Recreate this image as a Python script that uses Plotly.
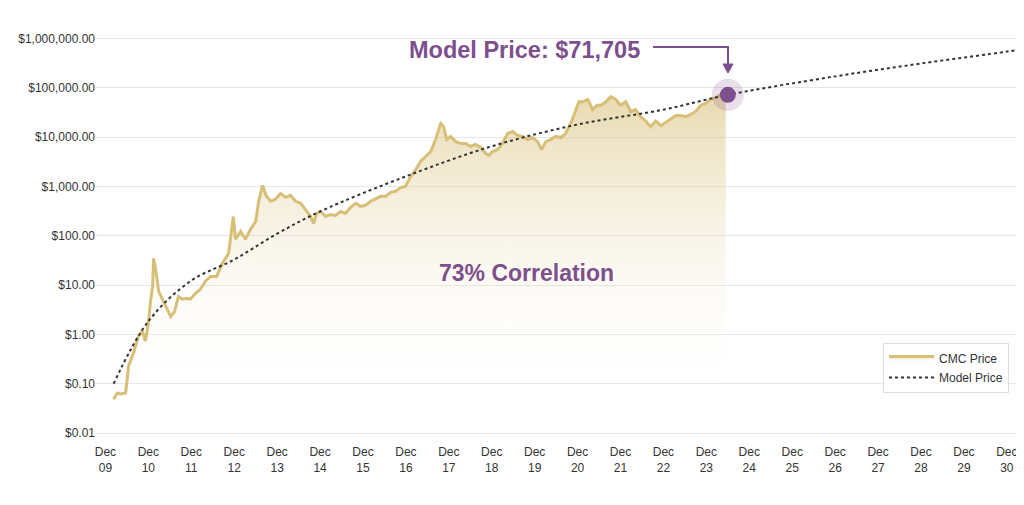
import plotly.graph_objects as go

price_year = [2010.11,2010.20,2010.27,2010.39,2010.46,2010.57,2010.69,2010.78,2010.85,2010.92,2010.97,2011.02,2011.04,2011.09,2011.16,2011.25,2011.34,2011.44,
 2011.53,2011.62,2011.71,2011.81,2011.90,2012.02,2012.13,2012.25,2012.37,2012.51,2012.65,2012.79,2012.90,2012.95,2013.07,2013.18,2013.30,2013.42,2013.49,2013.58,2013.67,2013.77,2013.88,
 2014.00,2014.12,2014.23,2014.35,2014.47,2014.58,2014.70,2014.77,2014.84,2014.93,2015.05,2015.16,2015.28,2015.40,2015.51,2015.63,2015.75,2015.86,2015.98,
 2016.10,2016.21,2016.33,2016.45,2016.56,2016.68,2016.80,2016.91,2017.03,2017.15,2017.26,2017.38,2017.50,2017.61,2017.73,2017.80,2017.87,2017.96,
 2018.08,2018.20,2018.31,2018.43,2018.54,2018.66,2018.78,2018.85,2018.94,2019.06,2019.17,2019.29,2019.41,2019.52,2019.64,2019.76,2019.87,2019.99,
 2020.08,2020.18,2020.29,2020.41,2020.53,2020.64,2020.76,2020.85,2020.95,2021.04,2021.16,2021.27,2021.37,2021.46,2021.58,2021.69,2021.81,2021.92,
 2022.04,2022.16,2022.27,2022.39,2022.51,2022.62,2022.74,2022.86,2022.97,2023.09,2023.21,2023.32,2023.44,2023.56,2023.67,2023.79,2023.90,2024.02,2024.14,2024.25,2024.37]
price_usd = [0.049,0.065,0.062,0.065,0.23,0.41,0.92,1.16,0.73,1.7,4.7,9.5,35,21,7.5,5.2,3.7,2.3,
 2.9,5.9,5.2,5.4,5.2,6.8,8.2,12,15,15,28,44,245,85,123,85,135,195,500,1050,630,500,550,
 720,600,660,500,455,340,245,178,283,310,245,270,258,310,283,375,455,395,415,
 500,550,630,630,760,795,955,1000,1590,2200,3200,4050,5100,8900,19000,16300,8900,10300,
 8100,7400,7400,6450,7100,6150,4650,4250,5100,5600,7400,11800,13000,10800,10300,8900,9800,8100,
 5600,8100,8900,10300,9800,11800,19000,30000,52000,52000,58000,36000,44000,44000,52000,66000,58000,44000,
 52000,33000,36000,26000,21000,16300,21000,17000,20000,23000,27500,27500,26000,29000,33000,44000,48000,58000,63000,72000,80000]

fill_floor = 0.1

model_year = [2010.11,2010.92,2011.90,2012.92,2013.92,2014.92,2016.92,2018.92,2020.92,2022.92,2024.42,2026.92,2028.92,2030.92,2031.25]
model_usd = [0.1,1.85,12,33,110,310,1600,6500,18000,36000,71705,170000,310000,540000,600000]

current_year = 2024.42
current_model = 71705

tick_years = [2009.92 + i for i in range(22)]
tick_labels = ["Dec<br>%02d" % (9 + i) for i in range(22)]
y_ticks = [0.01,0.1,1,10,100,1000,10000,100000,1000000]
y_labels = ["$0.01","$0.10","$1.00","$10.00","$100.00","$1,000.00","$10,000.00","$100,000.00","$1,000,000.00"]

PURPLE = "#7d4f8c"
GOLD = "#d8bf78"

fig = go.Figure()
fig.add_trace(go.Scatter(x=[price_year[0], price_year[-1]], y=[fill_floor, fill_floor], mode="lines",
    line=dict(width=0, color="rgba(0,0,0,0)"), showlegend=False, hoverinfo="skip"))
fig.add_trace(go.Scatter(x=price_year, y=price_usd, mode="lines", name="CMC Price",
    line=dict(color=GOLD, width=3), fill="tonexty", legendrank=1,
    fillgradient=dict(type="vertical", colorscale=[[0, "rgba(255,255,255,0)"], [1, "rgba(216,191,120,0.6)"]])))
fig.add_trace(go.Scatter(x=model_year, y=model_usd, mode="lines", name="Model Price", legendrank=2,
    line=dict(color="#333333", width=2, dash="dot", shape="spline")))
fig.add_trace(go.Scatter(x=[current_year], y=[current_model], mode="markers", showlegend=False,
    marker=dict(size=32, color="rgba(125,79,140,0.18)")))
fig.add_trace(go.Scatter(x=[current_year], y=[current_model], mode="markers", showlegend=False,
    marker=dict(size=16, color=PURPLE)))

L, R, T, B = 88, 1013, 23, 435
def px(x): return (x - L - 7) / (R - L)
def py(y): return (B + 7 - y) / (B - T)

fig.add_shape(type="path", xref="paper", yref="paper",
    path="M %f %f L %f %f L %f %f" % (px(652), py(46), px(727), py(46), px(727), py(64)),
    line=dict(color=PURPLE, width=2))
fig.add_shape(type="path", xref="paper", yref="paper",
    path="M %f %f L %f %f L %f %f Z" % (px(722), py(63), px(732), py(63), px(727), py(72)),
    line=dict(color=PURPLE, width=1), fillcolor=PURPLE)

fig.add_annotation(xref="paper", yref="paper", x=px(641), y=py(49), xanchor="right", yanchor="middle",
    text="<b>Model Price: $71,705</b>", showarrow=False, font=dict(size=23.5, color=PURPLE))
fig.add_annotation(xref="paper", yref="paper", x=px(525), y=py(272), xanchor="center", yanchor="middle",
    text="<b>73% Correlation</b>", showarrow=False, font=dict(size=23, color=PURPLE))

fig.update_layout(
    width=1024, height=505, margin=dict(l=L, r=1024 - R, t=T, b=505 - B),
    paper_bgcolor="white", plot_bgcolor="white",
    font=dict(family="Liberation Sans, Arial, sans-serif", size=12, color="#333"),
    legend=dict(x=px(882), y=py(342), xanchor="left", yanchor="top", bgcolor="white",
        traceorder="normal", itemwidth=45,
        bordercolor="#dddddd", borderwidth=1, font=dict(size=12, color="#333")),
    xaxis=dict(range=[2009.7, 2031.25], tickvals=tick_years, ticktext=tick_labels,
        showgrid=False, zeroline=False, showline=False, ticks=""),
    yaxis=dict(type="log", range=[-2.2, 6.15], tickvals=y_ticks, ticktext=y_labels,
        showgrid=True, gridcolor="#e6e6e6", zeroline=False, showline=False, ticks="", ticklen=0),
)
fig.write_html("out.html")
